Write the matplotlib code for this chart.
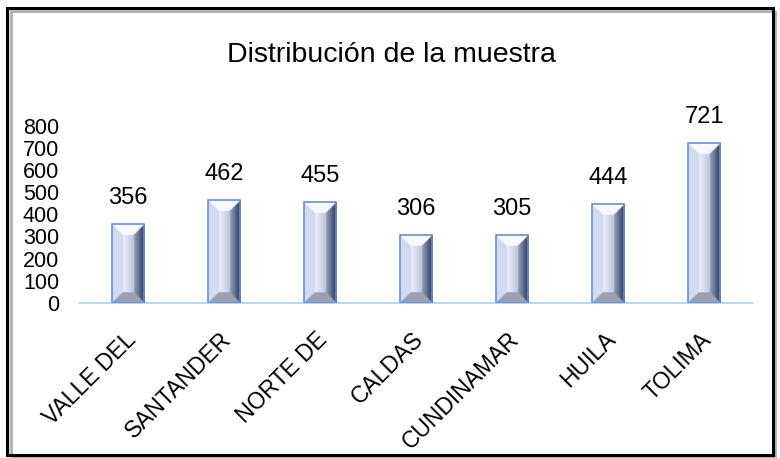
import numpy as np
import matplotlib
matplotlib.use("Agg")
from matplotlib import pyplot as plt
from matplotlib.patches import Rectangle
import matplotlib.transforms as mtransforms

plt.rcParams['font.family'] = ['Liberation Sans', 'DejaVu Sans']

# data
departamentos = ['VALLE DEL', 'SANTANDER', 'NORTE DE', 'CALDAS',
                 'CUNDINAMAR', 'HUILA', 'TOLIMA']
muestra = [356, 462, 455, 306, 305, 444, 721]
yticks = [0, 100, 200, 300, 400, 500, 600, 700, 800]

W, H = 780, 458
fig = plt.figure(figsize=(W / 100, H / 100), dpi=100)
ax = fig.add_axes([80 / W, 1 - 303 / H, 672 / W, (303 - 125.5) / H])

bar_w = 0.34


def bevel_image(wpx, hpx):
    """RGB image of a bevelled bar, wpx x hpx pixels."""
    wpx = max(int(wpx), 2); hpx = max(int(hpx), 2)
    x = (np.arange(wpx) + 0.5)[None, :] * np.ones((hpx, 1))
    y = (np.arange(hpx) + 0.5)[:, None] * np.ones((1, wpx))
    dl = x; dr = wpx - x; dt = y; db = hpx - y
    b = 0.33 * wpx
    t = x / wpx
    # centre face: white to grey-blue
    c0 = np.array([0.95, 0.96, 1.0]); c1 = np.array([0.72, 0.76, 0.85])
    img = c0 + (c1 - c0) * np.clip((t - 0.3) / 0.4, 0, 1)[..., None]
    dmin = np.minimum(np.minimum(dl, dr), np.minimum(dt, db))
    inb = dmin < b
    left = inb & (dl == dmin)
    right = inb & (dr == dmin)
    top = inb & (dt == dmin)
    bot = inb & (db == dmin)
    img[left] = [0.82, 0.86, 0.94]
    img[top] = [0.97, 0.98, 1.0]
    img[bot] = [0.60, 0.63, 0.70]
    # right face darkens toward the edge
    rr = np.clip(dr / b, 0, 1)
    dark = np.array([0.16, 0.20, 0.32]); mid = np.array([0.58, 0.63, 0.75])
    rimg = dark + (mid - dark) * rr[..., None]
    img[right] = rimg[right]
    return img


px_per_unit = (303 - 125.5) / 800
for i, v in enumerate(muestra):
    x0 = i - bar_w / 2
    img = bevel_image(32 * 3, v * px_per_unit * 3)
    ax.imshow(img, extent=[x0, x0 + bar_w, 0, v], aspect='auto',
              interpolation='bilinear', zorder=2)
    ax.add_patch(Rectangle((x0, 0), bar_w, v, fill=False,
                           edgecolor='#6a8fd6', lw=1.2, zorder=3))
    ax.annotate(str(v), (i, v), xytext=(0, 11), textcoords='offset points',
                ha='center', va='bottom', fontsize=17, color='black')

ax.set_xlim(-0.5, len(muestra) - 0.5)
ax.set_ylim(0, 800)
ax.set_yticks(yticks)
ax.set_yticklabels([str(t) for t in yticks], fontsize=15.5)
ax.set_xticks(range(len(departamentos)))
ax.set_xticklabels(departamentos, rotation=45, ha='right', va='top',
                   rotation_mode='anchor', fontsize=16.5)
ax.tick_params(axis='y', length=0, pad=15)
ax.tick_params(axis='x', length=0, pad=18)
shift = mtransforms.ScaledTranslation(-4 / 100, 0, fig.dpi_scale_trans)
for lbl in ax.get_xticklabels():
    lbl.set_transform(lbl.get_transform() + shift)
for s in ['top', 'right', 'left']:
    ax.spines[s].set_visible(False)
ax.spines['bottom'].set_color('#bdd7ee')
ax.spines['bottom'].set_linewidth(1.5)
ax.spines['bottom'].set_zorder(1)

fig.text(391 / W, 1 - 55 / H, 'Distribución de la muestra', ha='center',
         va='center', fontsize=20.5)

# outer frame with soft shadow
for k, g in enumerate([0.85, 0.75, 0.65]):
    fig.patches.append(Rectangle(((10 + k) / W, (3 - k) / H), (764) / W, (445) / H,
                                 transform=fig.transFigure, fill=False,
                                 edgecolor=str(g), lw=1.2))
fig.patches.append(Rectangle((7 / W, 1 - 455 / H), 766 / W, 447 / H,
                             transform=fig.transFigure, fill=False,
                             edgecolor='black', lw=2.2))

plt.savefig('out.png', dpi=100)
